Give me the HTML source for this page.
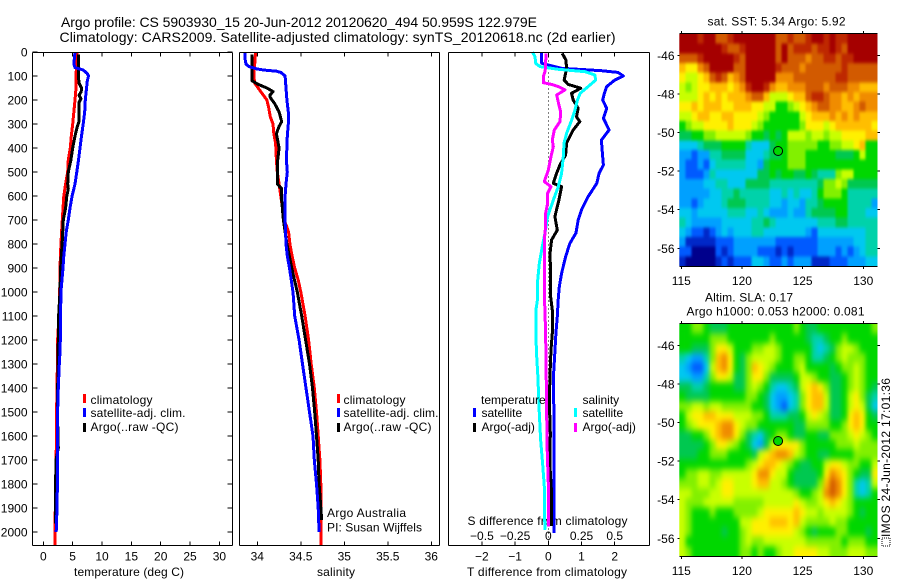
<!DOCTYPE html>
<html lang="en">
<head>
<meta charset="utf-8">
<title>Argo profile chart</title>
<style>
html,body{margin:0;padding:0;background:#fff;width:900px;height:580px;overflow:hidden}
svg{display:block;font-family:"Liberation Sans",sans-serif;font-size:12px;fill:#000}
</style>
</head>
<body>
<svg id="chart" xmlns="http://www.w3.org/2000/svg" width="900" height="580" viewBox="0 0 900 580">
  <defs>
    <filter id="smooth-sst" color-interpolation-filters="sRGB" x="-5%" y="-5%" width="110%" height="110%">
      <feGaussianBlur stdDeviation="1 1.6"/>
      <feComponentTransfer><feFuncA type="linear" slope="1000"/></feComponentTransfer>
    </filter>
    <filter id="smooth-sla" color-interpolation-filters="sRGB" x="-5%" y="-5%" width="110%" height="110%">
      <feGaussianBlur stdDeviation="2.2 3.4"/>
      <feComponentTransfer><feFuncA type="linear" slope="1000"/></feComponentTransfer>
    </filter>
    <clipPath id="clip-sst"><rect x="679.3" y="34" width="198.2" height="232"/></clipPath>
    <clipPath id="clip-sla"><rect x="679.3" y="324" width="198.2" height="232"/></clipPath>
  </defs>
  <text x="61" y="27" font-size="14" textLength="476">Argo profile: CS 5903930_15 20-Jun-2012 20120620_494 50.959S 122.979E</text>
  <text x="59.5" y="42" font-size="14" textLength="556">Climatology: CARS2009. Satellite-adjusted climatology: synTS_20120618.nc (2d earlier)</text>

  <text x="74" y="576" textLength="110">temperature (deg C)</text>
  <text x="317" y="576" textLength="38">salinity</text>
  <text x="467" y="576" textLength="160">T difference from climatology</text>
  <text x="467.5" y="525" textLength="160">S difference from climatology</text>

  <g>
    <rect x="83" y="394" width="3" height="9" fill="#ff0000"/>
    <text x="90.5" y="404" textLength="62">climatology</text>
    <rect x="83" y="408" width="3" height="9" fill="#0000ff"/>
    <text x="90.5" y="417" textLength="95">satellite-adj. clim.</text>
    <rect x="83" y="423" width="3" height="9" fill="#000"/>
    <text x="90.5" y="431" textLength="88">Argo(..raw -QC)</text>
  </g>
  <g>
    <rect x="337" y="394" width="3" height="9" fill="#ff0000"/>
    <text x="343.5" y="404" textLength="62">climatology</text>
    <rect x="337" y="408" width="3" height="9" fill="#0000ff"/>
    <text x="343.5" y="417" textLength="95">satellite-adj. clim.</text>
    <rect x="337" y="423" width="3" height="9" fill="#000"/>
    <text x="343.5" y="431" textLength="88">Argo(..raw -QC)</text>
  </g>
  <text x="327" y="517" textLength="79">Argo Australia</text>
  <text x="327" y="531.5" textLength="95">PI: Susan Wijffels</text>

  <g id="overlays"></g>

  <text x="707.5" y="25.5" textLength="138">sat. SST: 5.34  Argo: 5.92</text>
  <text x="705" y="301.5" textLength="88">Altim. SLA: 0.17</text>
  <text x="686.5" y="315.5" textLength="178">Argo h1000: 0.053 h2000: 0.081</text>
  <rect x="882" y="538" width="8" height="8" fill="none" stroke="#000" stroke-width="1" stroke-dasharray="1 1" shape-rendering="crispEdges"/>
  <text transform="translate(890,537) rotate(-90)" textLength="159">IMOS 24-Jun-2012 17:01:36</text>
</svg>
<script>
// ---- profile depths and values ----
const climTDepth = [0,100,150,200,300,350,400,450,500,550,600,700,800,900,1000,1100,1200,1300,1500,1600,1700,1800,1900,2000,2054];
const climT = [5.8,5.57,5.57,5.4,5.0,4.77,4.6,4.26,4.15,3.8,3.5,3.24,3.0,2.84,2.8,2.67,2.44,2.4,2.27,2.27,2.16,2.1,2.05,1.99,1.99];
const satTDepth = [0,50,65,75,90,100,120,200,250,300,350,400,450,500,550,600,650,700,750,800,850,900,1000,1100,1200,1250,1300,1400,1500,1600,1700,1800,1900,2000];
const satT = [5.4,5.2,5.4,6.8,7.5,7.7,7.5,7.16,7.05,6.8,6.5,6.25,6.0,5.7,5.4,4.9,4.55,4.26,3.9,3.7,3.5,3.35,3.0,2.95,2.9,2.85,2.73,2.56,2.44,2.44,2.4,2.4,2.33,2.2];
const argoTDepth = [10,100,130,150,165,180,195,210,250,290,310,350,400,450,500,550,570,600,650,700,800,850,900,1000,1100,1200,1300,1500,1650,1700,1800,1965];
const argoT = [6.0,5.97,6.1,6.5,6.45,6.1,6.4,6.1,6.1,6.08,5.8,5.4,5.0,4.7,4.26,4.15,4.26,4.0,3.8,3.4,3.2,3.07,2.95,2.84,2.6,2.56,2.5,2.4,2.56,2.16,2.1,2.05];

const climSDepth = [0,100,130,150,170,200,230,270,300,340,380,450,500,550,600,650,700,750,800,850,900,950,1000,1100,1200,1300,1400,1500,1600,1700,1800,2000,2054];
const climS = [33.98,33.96,33.97,34.01,34.05,34.11,34.13,34.15,34.18,34.19,34.21,34.22,34.23,34.25,34.27,34.29,34.31,34.36,34.375,34.4,34.43,34.47,34.5,34.55,34.59,34.62,34.655,34.68,34.7,34.72,34.73,34.735,34.735];
const satSDepth = [0,30,50,60,70,75,80,85,100,200,250,300,350,450,500,550,600,700,800,850,900,1000,1100,1200,1300,1400,1500,1600,1700,1800,1900,2000];
const satS = [33.86,33.86,33.87,33.9,33.99,34.07,34.22,34.27,34.32,34.34,34.356,34.356,34.345,34.335,34.345,34.33,34.32,34.32,34.33,34.345,34.37,34.41,34.43,34.48,34.52,34.56,34.6,34.64,34.655,34.68,34.7,34.71];
const argoSDepth = [10,120,135,150,165,180,190,215,250,290,310,340,400,450,500,550,570,620,700,800,900,1000,1100,1200,1300,1400,1500,1600,1700,1800,1950];
const argoS = [33.94,33.94,34.01,34.11,34.18,34.145,34.15,34.2,34.25,34.28,34.25,34.22,34.25,34.235,34.23,34.23,34.28,34.28,34.3,34.34,34.395,34.46,34.51,34.555,34.6,34.635,34.66,34.68,34.7,34.71,34.74];

const diffSatTDepth = [0,47,68,78,85,100,117,144,172,200,235,276,325,367,422,471,505,547,603,658,700,755,797,853,922,978,1026,1102,1172,1269,1339,1588,2005];
const diffSatT = [-0.2,-0.2,0.4,1.6,2.1,2.26,2.0,1.76,1.69,1.64,1.76,1.66,1.83,1.6,1.63,1.66,1.53,1.46,1.2,1.0,0.9,0.83,0.65,0.52,0.4,0.33,0.3,0.27,0.23,0.19,0.16,0.17,0.17];
const diffArgoTDepth = [6,33,68,117,135,151,172,200,235,270,290,325,380,429,471,505,547,561,617,686,742,783,839,922,1019,1075,1172,1241,1311,1450,1588,1727,1838,1922,1975];
const diffArgoT = [0.42,0.53,0.55,0.48,0.6,0.98,0.7,0.75,0.9,0.85,0.95,0.75,0.55,0.52,0.35,0.25,0.15,0.4,0.32,0.2,0.27,0.1,0.05,0.07,0.07,0.12,0.12,0.08,0.06,0.03,0.06,0.05,0.1,0.09,0.09];
const diffSatSDepth = [0,19,47,61,72,82,96,117,144,172,200,242,283,339,380,436,505,561,617,686,755,811,881,950,1026,1075,1241,1353,1477,1616,1714,1811,1922,1991];
const diffSatS = [-0.12,-0.1,-0.095,-0.063,0.075,0.276,0.35,0.357,0.3,0.24,0.22,0.2,0.176,0.138,0.118,0.113,0.1,0.075,0.038,-0.005,-0.025,-0.045,-0.068,-0.08,-0.08,-0.093,-0.09,-0.078,-0.07,-0.058,-0.043,-0.03,-0.03,-0.023];
const diffArgoSDepth = [6,61,82,103,128,135,144,158,179,221,249,290,325,367,394,436,492,540,561,589,631,672,728,783,922,1026,1075,1241,1380,1519,1658,1797,1977];
const diffArgoS = [-0.018,-0.02,-0.025,-0.038,-0.038,0.025,0.075,0.125,0.063,0.08,0.093,0.088,0.045,0.03,0.038,0.02,0,-0.03,0.02,-0.005,-0.005,-0.02,-0.02,-0.03,-0.03,-0.03,-0.025,-0.018,-0.015,-0.012,-0.008,0,0.002];

// ---- tick labels ----
const depthTicks = [0,100,200,300,400,500,600,700,800,900,1000,1100,1200,1300,1400,1500,1600,1700,1800,1900,2000];
const tempTicks = [0,5,10,15,20,25,30];
const salTicks = [34,34.5,35,35.5,36];
const tDiffTicks = [-2,-1,0,1,2];
const sDiffTicks = [-0.5,-0.25,0,0.25,0.5];
const lonTicks = [115,120,125,130];
const latTicks = [-46,-48,-50,-52,-54,-56];

// ---- map colour levels, 0 (low) to 15 (high) ----
const sstGrid = [
[15,15,15,14,15,15,13,13,14,15,15,15,15,15,15,15,13,13,14,13,13,14,15,15,14,15,14,14,15,15,15,15,15],
[15,15,15,15,15,15,15,14,13,13,14,15,15,15,15,15,13,15,13,14,14,14,13,14,14,15,14,13,15,15,15,15,15],
[13,13,13,14,15,15,15,15,15,14,13,15,15,15,15,15,13,15,13,13,13,12,13,13,14,14,13,14,14,15,15,15,15],
[11,10,10,12,13,15,15,15,15,13,13,15,15,15,15,15,14,13,13,13,12,13,13,13,13,13,13,14,13,13,13,13,13],
[10,9,9,10,11,13,14,13,11,12,13,15,15,15,15,15,12,12,12,13,13,13,13,13,13,13,14,14,13,13,13,13,13],
[9,8,9,10,10,11,11,11,10,11,12,14,15,15,14,12,11,11,12,12,12,13,13,13,12,13,13,13,12,12,11,11,11],
[9,9,9,10,11,10,11,10,11,11,11,12,13,13,11,9,9,9,10,11,11,13,14,14,13,12,12,11,12,11,12,12,12],
[10,10,11,10,11,11,11,10,10,11,11,11,10,10,9,9,7,7,8,9,10,11,12,13,13,12,12,11,11,12,13,12,12],
[9,9,10,11,11,10,10,11,11,10,10,10,10,9,8,7,7,7,7,7,9,10,11,11,11,12,11,12,11,12,11,11,11],
[7,8,9,9,10,10,10,10,11,10,10,10,9,8,7,7,7,7,7,7,8,10,10,10,9,10,11,11,11,11,11,11,10],
[6,6,7,7,8,8,9,9,9,9,9,8,7,7,6,7,6,7,9,9,9,8,9,9,8,9,9,10,10,10,10,11,11],
[4,4,4,5,6,6,6,7,7,7,7,5,4,4,4,6,7,7,8,8,8,8,8,7,7,8,8,9,9,10,11,7,7],
[3,3,2,3,3,5,5,6,6,6,6,4,4,4,5,6,6,7,8,8,8,7,7,7,7,7,6,6,6,7,9,7,7],
[3,2,2,3,2,4,5,5,5,5,5,4,4,3,6,7,7,7,8,8,8,7,7,7,7,7,7,7,7,7,7,7,7],
[3,2,2,2,3,5,4,4,4,4,4,4,4,6,6,7,6,7,7,6,6,7,6,5,5,5,8,9,9,7,7,7,7],
[3,3,3,3,4,4,5,5,4,4,4,6,6,6,6,5,5,5,5,5,5,5,5,6,8,8,9,8,6,6,6,6,6],
[3,3,3,3,3,4,4,5,5,6,5,5,5,5,5,4,4,5,4,5,4,4,5,7,8,8,8,7,5,5,5,5,5],
[3,3,2,3,4,4,4,5,6,6,6,5,5,5,5,4,4,3,4,4,3,5,5,6,7,7,7,7,5,5,5,5,3],
[4,4,3,4,4,4,4,4,5,5,5,4,4,5,4,3,3,3,4,3,3,5,6,6,6,6,7,7,5,5,5,4,4],
[5,4,3,3,3,3,3,4,4,4,4,4,5,5,6,5,4,4,4,4,4,4,4,5,5,5,6,6,5,5,5,5,5],
[4,3,2,2,1,2,3,4,3,4,4,4,5,5,4,4,4,4,4,4,4,3,2,4,4,4,4,4,4,4,4,5,5],
[3,1,1,1,1,1,2,2,2,3,3,3,3,3,3,3,2,2,2,2,2,2,2,3,3,3,3,3,3,4,4,5,5],
[2,2,0,0,0,0,2,1,2,3,3,3,3,2,2,2,1,2,1,2,2,2,2,3,3,3,2,3,2,3,4,5,5],
[1,0,0,0,0,0,1,2,1,2,2,2,4,4,3,2,2,3,2,3,3,3,1,1,1,2,2,2,3,3,3,4,4]
];
const slaGrid = [
[7,7,8,8,7,6,6,6,7,7,7,7,7,7,7,7,7,7,7,8,7,6,6,7,7,7,7,7,7,7,7,7,8],
[7,7,7,7,7,8,8,8,7,7,7,7,7,7,7,8,7,7,7,7,7,6,5,5,6,7,7,8,7,7,7,7,7],
[7,7,6,6,6,8,10,10,9,7,7,7,8,8,9,9,8,7,7,7,7,7,5,4,5,6,8,9,9,8,7,7,7],
[5,4,3,3,5,8,11,12,10,7,6,8,9,9,9,9,8,7,7,8,8,7,5,5,6,7,8,9,8,8,8,7,7],
[4,3,2,2,4,9,11,12,10,7,6,8,11,10,9,8,7,7,7,8,9,7,7,7,7,6,7,8,8,9,8,7,7],
[4,4,3,3,5,8,10,10,9,6,6,8,10,10,8,6,6,6,6,7,9,9,8,7,7,6,6,7,8,9,8,7,7],
[6,6,5,5,6,7,7,7,7,6,6,8,9,8,7,5,4,4,5,6,9,10,11,10,8,6,6,7,8,9,8,7,6],
[7,6,6,6,6,7,7,7,7,7,7,8,8,7,6,4,3,3,4,5,8,10,11,11,9,6,6,7,9,10,8,6,5],
[8,8,9,9,8,9,9,8,8,8,8,8,7,7,6,4,3,2,4,5,8,10,11,11,9,6,6,7,9,10,9,6,4],
[7,9,10,10,11,11,10,10,10,9,9,9,8,8,7,5,5,5,6,6,7,9,10,9,8,6,6,7,10,11,10,7,6],
[7,8,9,10,10,10,11,12,12,10,9,8,8,7,7,7,7,7,7,6,6,8,8,8,8,7,7,8,10,11,10,7,7],
[6,6,7,7,8,10,11,12,12,10,8,6,5,4,6,7,8,8,7,6,6,7,7,6,6,8,8,8,9,10,9,8,7],
[6,6,6,6,7,8,10,10,9,8,7,6,4,3,6,9,10,10,10,10,8,7,7,7,7,7,8,8,8,9,8,8,8],
[6,6,6,7,7,8,8,8,7,7,7,7,6,9,10,11,12,12,11,9,8,7,7,6,6,7,7,7,7,8,8,8,8],
[7,7,7,7,7,7,7,7,7,7,7,8,9,10,11,11,10,9,8,7,6,6,7,7,9,10,10,9,8,8,7,7,9],
[7,8,8,9,9,8,8,9,9,9,9,9,10,12,12,10,9,9,7,6,6,6,6,7,10,12,11,10,8,7,6,6,10],
[8,8,8,9,9,8,9,10,10,9,9,9,10,11,11,9,9,8,7,6,6,6,6,8,11,13,12,10,8,5,4,5,9],
[9,9,8,8,8,9,9,10,10,9,9,9,9,9,9,9,9,9,9,8,7,7,8,9,12,13,12,10,8,5,4,5,7],
[9,8,8,8,9,9,9,9,9,8,8,8,8,8,9,9,9,9,9,10,9,8,8,9,10,11,10,9,8,7,7,7,7],
[9,8,7,7,7,8,7,7,7,8,8,8,8,9,10,10,10,10,10,11,10,9,9,8,9,9,9,9,8,7,6,7,7],
[9,8,7,7,7,7,7,7,7,7,9,9,10,10,10,11,11,11,10,11,9,8,8,8,8,9,8,8,7,7,7,7,7],
[9,8,7,7,7,7,7,6,7,7,8,9,10,10,10,10,10,10,10,9,8,7,6,7,7,7,8,8,7,7,7,6,7],
[9,7,7,7,7,7,7,7,7,7,8,9,8,8,9,9,9,9,9,9,9,8,8,8,8,8,8,7,8,8,8,7,7],
[9,8,7,7,7,7,7,7,7,7,8,8,7,8,7,7,8,9,9,10,10,10,10,9,9,8,8,8,9,9,9,8,8]
];
const floatLon = 122.979;
const floatLat = -50.959;

// ---- drawing ----
const svg = document.getElementById('chart');
const overlays = document.getElementById('overlays');
const NS = 'http://www.w3.org/2000/svg';

const levelColors = ['#00008c','#0028c8','#005aff','#00a0ff','#00c8f0','#00d2aa','#00c850','#00d700','#82f000','#c8ff00','#fff000','#ffbe00','#f08c00','#d25a00','#be2800','#a50000'];

const depthY = d => 52 + d * 0.24;
const tempX = t => 43.3 + t * 5.87;
const salX = s => 257.3 + (s - 34) * 87;
const tDiffX = t => 548.3 + t * 33.2;
const sDiffX = s => 548.3 + s * 132.8;
const lonX = lon => 681.3 + (lon - 115) * 12.13;
const latY = (lat, top) => top + (-46 - lat) * 19.3;

function line(parent, x1, y1, x2, y2, name) {
  const el = document.createElementNS(NS, 'line');
  el.setAttribute('x1', x1);
  el.setAttribute('y1', y1);
  el.setAttribute('x2', x2);
  el.setAttribute('y2', y2);
  el.setAttribute('stroke', '#000');
  el.setAttribute('shape-rendering', 'crispEdges');
  
  
  parent.appendChild(el);
  return el;
}
function label(parent, x, y, str, anchor, name) {
  const el = document.createElementNS(NS, 'text');
  el.setAttribute('x', x);
  el.setAttribute('y', y);
  el.setAttribute('text-anchor', anchor);
  
  
  el.textContent = str;
  parent.appendChild(el);
  return el;
}
function group(name) {
  const el = document.createElementNS(NS, 'g');
  
  
  svg.insertBefore(el, overlays);
  return el;
}
function series(parent, depths, values, xScale, color, name) {
  const el = document.createElementNS(NS, 'polyline');
  el.setAttribute('points', values.map((v, i) => xScale(v).toFixed(1) + ',' + depthY(depths[i]).toFixed(1)).join(' '));
  el.setAttribute('fill', 'none');
  el.setAttribute('stroke', color);
  el.setAttribute('stroke-width', '3');
  el.setAttribute('stroke-linejoin', 'round');
  el.setAttribute('shape-rendering', 'crispEdges');
  
  
  parent.appendChild(el);
}
function frame(parent, x0, x1, y0, y1) {
  line(parent, x0, y0, x1, y0, 'axis-top');
  line(parent, x0, y1, x1, y1, 'axis-bottom');
  line(parent, x0, y0, x0, y1, 'axis-left');
  line(parent, x1, y0, x1, y1, 'axis-right');
}

// temperature panel
const tempPanel = group('temperature-panel');
series(tempPanel, climTDepth, climT, tempX, '#ff0000', 'climatology-temperature-line');
series(tempPanel, argoTDepth, argoT, tempX, '#000000', 'argo-temperature-line');
series(tempPanel, satTDepth, satT, tempX, '#0000ff', 'satellite-temperature-line');
frame(tempPanel, 32.5, 232.5, 52.5, 545.5);
depthTicks.forEach(d => {
  line(tempPanel, 32.5, depthY(d), 37.5, depthY(d), 'depth-tick-left');
  line(tempPanel, 227.5, depthY(d), 232.5, depthY(d), 'depth-tick-right');
  label(tempPanel, 27.5, depthY(d) + 4.5, String(d), 'end', 'depth-tick-label');
});
tempTicks.forEach(t => {
  line(tempPanel, tempX(t), 52.5, tempX(t), 56.5, 'temperature-tick-top');
  line(tempPanel, tempX(t), 541.5, tempX(t), 545.5, 'temperature-tick-bottom');
  label(tempPanel, tempX(t), 560.5, String(t), 'middle', 'temperature-tick-label');
});

// salinity panel
const salPanel = group('salinity-panel');
series(salPanel, climSDepth, climS, salX, '#ff0000', 'climatology-salinity-line');
series(salPanel, argoSDepth, argoS, salX, '#000000', 'argo-salinity-line');
series(salPanel, satSDepth, satS, salX, '#0000ff', 'satellite-salinity-line');
frame(salPanel, 239.5, 439.5, 52.5, 545.5);
salTicks.forEach(s => {
  line(salPanel, salX(s), 52.5, salX(s), 56.5, 'salinity-tick-top');
  line(salPanel, salX(s), 541.5, salX(s), 545.5, 'salinity-tick-bottom');
  label(salPanel, salX(s), 560.5, String(s), 'middle', 'salinity-tick-label');
});

// difference panel
const diffPanel = group('difference-panel');
const zeroLine = line(diffPanel, tDiffX(0), 52.5, tDiffX(0), 545.5, 'zero-difference-line');
zeroLine.setAttribute('stroke-dasharray', '1 3');
series(diffPanel, diffSatTDepth, diffSatT, tDiffX, '#0000ff', 'satellite-temperature-difference-line');
series(diffPanel, diffArgoTDepth, diffArgoT, tDiffX, '#000000', 'argo-temperature-difference-line');
series(diffPanel, diffSatSDepth, diffSatS, sDiffX, '#00ffff', 'satellite-salinity-difference-line');
series(diffPanel, diffArgoSDepth, diffArgoS, sDiffX, '#ff00ff', 'argo-salinity-difference-line');
frame(diffPanel, 448.5, 649.5, 52.5, 545.5);
tDiffTicks.forEach(t => {
  line(diffPanel, tDiffX(t), 52.5, tDiffX(t), 56.5, 'temperature-difference-tick-top');
  line(diffPanel, tDiffX(t), 541.5, tDiffX(t), 545.5, 'temperature-difference-tick-bottom');
  label(diffPanel, tDiffX(t), 560.5, String(t).replace('-', '\u2212'), 'middle', 'temperature-difference-tick-label');
});
sDiffTicks.forEach(s => {
  label(diffPanel, sDiffX(s), 540, String(s).replace('-', '\u2212'), 'middle', 'salinity-difference-tick-label');
});

// difference legend (drawn last so it sits above the lines)
function swatch(x, y, color, name) {
  const el = document.createElementNS(NS, 'rect');
  el.setAttribute('x', x);
  el.setAttribute('y', y);
  el.setAttribute('width', 3);
  el.setAttribute('height', 9);
  el.setAttribute('fill', color);
  
  
  overlays.appendChild(el);
}
label(overlays, 481, 404, 'temperature', 'start', 'legend-heading-temperature');
swatch(473, 408, '#0000ff', 'legend-swatch-temperature-satellite');
label(overlays, 481.5, 417, 'satellite', 'start', 'legend-label-temperature-satellite');
swatch(473, 423, '#000000', 'legend-swatch-temperature-argo');
label(overlays, 481.5, 431, 'Argo(-adj)', 'start', 'legend-label-temperature-argo');
label(overlays, 582.5, 404, 'salinity', 'start', 'legend-heading-salinity');
swatch(574, 408, '#00ffff', 'legend-swatch-salinity-satellite');
label(overlays, 582.5, 417, 'satellite', 'start', 'legend-label-salinity-satellite');
swatch(574, 423, '#ff00ff', 'legend-swatch-salinity-argo');
label(overlays, 582.5, 431, 'Argo(-adj)', 'start', 'legend-label-salinity-argo');

// maps
function drawMap(grid, top, name, markerLevel, filterId, clipId) {
  const g = group(name);
  const imageTop = top - 21.3;
  const imageLeft = 679.3;
  const cellW = 198 / grid[0].length;
  const cellH = 232 / grid.length;
  const clipGroup = document.createElementNS(NS, 'g');
  clipGroup.setAttribute('clip-path', 'url(#' + clipId + ')');
  
  
  g.appendChild(clipGroup);
  const cells = document.createElementNS(NS, 'g');
  cells.setAttribute('filter', 'url(#' + filterId + ')');
  
  
  clipGroup.appendChild(cells);
  grid.forEach((row, r) => {
    row.forEach((value, c) => {
      const cell = document.createElementNS(NS, 'rect');
      cell.setAttribute('x', (imageLeft + c * cellW).toFixed(2));
      cell.setAttribute('y', (imageTop + r * cellH).toFixed(2));
      cell.setAttribute('width', (cellW + 0.5).toFixed(2));
      cell.setAttribute('height', (cellH + 0.5).toFixed(2));
      cell.setAttribute('fill', levelColors[value]);
      cell.setAttribute('shape-rendering', 'crispEdges');
      
      
      cells.appendChild(cell);
    });
  });
  const bottom = imageTop + 232;
  line(g, imageLeft, imageTop - 0.5, 877.5, imageTop - 0.5, 'map-axis-top');
  line(g, imageLeft, bottom + 0.5, 877.5, bottom + 0.5, 'map-axis-bottom');
  lonTicks.forEach(lon => {
    line(g, lonX(lon), imageTop - 3, lonX(lon), imageTop, 'map-longitude-tick-top');
    line(g, lonX(lon), bottom, lonX(lon), bottom + 3, 'map-longitude-tick-bottom');
    label(g, lonX(lon), bottom + 19, String(lon), 'middle', 'map-longitude-label');
  });
  latTicks.forEach(lat => {
    line(g, imageLeft - 2, latY(lat, top), imageLeft, latY(lat, top), 'map-latitude-tick-left');
    line(g, 877.5, latY(lat, top), 880, latY(lat, top), 'map-latitude-tick-right');
    label(g, 674.5, latY(lat, top) + 4.5, String(lat), 'end', 'map-latitude-label');
  });
  const marker = document.createElementNS(NS, 'circle');
  marker.setAttribute('cx', lonX(floatLon));
  marker.setAttribute('cy', latY(floatLat, top));
  marker.setAttribute('r', 4.5);
  marker.setAttribute('fill', levelColors[markerLevel]);
  marker.setAttribute('stroke', '#000');
  
  
  g.appendChild(marker);
}
drawMap(sstGrid, 55.3, 'sst-map', 7, 'smooth-sst', 'clip-sst');
drawMap(slaGrid, 345.3, 'sla-map', 7, 'smooth-sla', 'clip-sla');
</script>
</body>
</html>
